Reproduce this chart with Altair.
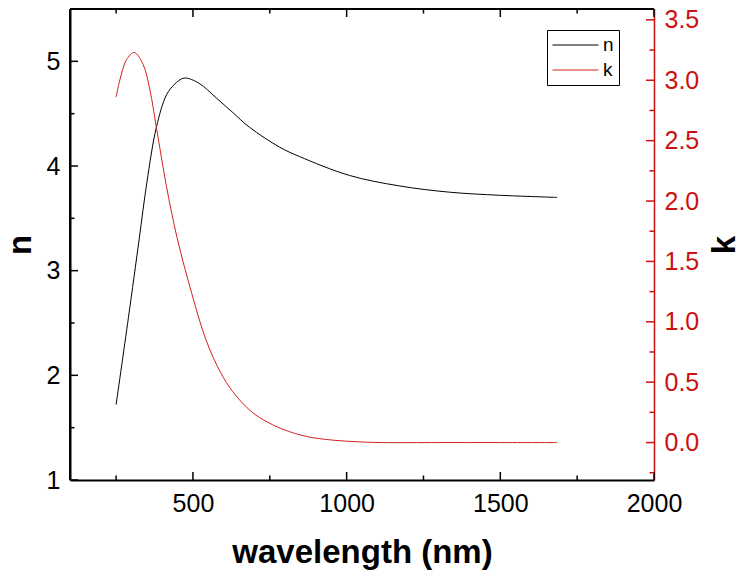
import altair as alt
import pandas as pd

# ---- data ----
wl_n = [250, 290, 325, 350, 381, 414, 440, 471, 520, 576, 630, 684, 782, 847, 1009, 1171, 1334, 1500, 1685]
n_vals = [1.72, 2.55, 3.30, 3.84, 4.37, 4.68, 4.78, 4.84, 4.79, 4.65, 4.51, 4.37, 4.18, 4.09, 3.91, 3.81, 3.75, 3.72, 3.70]

wl_k = [250, 262, 284, 309, 338, 360, 381, 414, 448, 490, 544, 590, 630, 684, 728, 793, 870, 955, 1040, 1117, 1300, 1500, 1685]
k_vals = [2.86, 3.00, 3.17, 3.23, 3.13, 2.92, 2.61, 2.12, 1.70, 1.29, 0.84, 0.58, 0.42, 0.27, 0.19, 0.11, 0.05, 0.02, 0.006, 0.0, 0.0, 0.0, 0.0]

x_major = [500, 1000, 1500, 2000]
x_minor = [250, 750, 1250, 1750]
n_major = [1, 2, 3, 4, 5]
n_minor = [1.5, 2.5, 3.5, 4.5]
k_major = [0.0, 0.5, 1.0, 1.5, 2.0, 2.5, 3.0, 3.5]
k_minor = [-0.25, 0.25, 0.75, 1.25, 1.75, 2.25, 2.75, 3.25]
series = ["n", "k"]

# ---- styling ----
W, H = 584, 471
FONT = "Liberation Sans"
RED_AX = "#cc1111"
RED_LN = "#d42020"
MAJ, MIN = 8, 4.5

xs = alt.Scale(domain=[100, 2000], nice=False, zero=False)
ns = alt.Scale(domain=[1, 5.5], nice=False, zero=False)
ks = alt.Scale(domain=[-0.31, 3.59], nice=False, zero=False)
cs = alt.Scale(domain=series, range=["black", RED_LN])

df_n = pd.DataFrame({"wl": wl_n, "n": n_vals, "s": series[0]})
df_k = pd.DataFrame({"wl": wl_k, "k": k_vals, "s": series[1]})

x_axis = alt.Axis(values=x_major, format="d", title="wavelength (nm)", grid=False,
                  ticks=False, tickSize=0, labelFontSize=25, labelFont=FONT, labelColor="black",
                  labelPadding=11, domainColor="black", domainWidth=2,
                  titleFontSize=33, titleFont=FONT, titleFontWeight="bold", titleColor="black",
                  titlePadding=20, labelFlush=False)

n_axis = alt.Axis(orient="left", values=n_major, format="d", title="n", grid=False,
                  ticks=False, tickSize=0, labelFontSize=25, labelFont=FONT, labelColor="black",
                  labelPadding=10, domainColor="black", domainWidth=2,
                  titleFontSize=33, titleFont=FONT, titleFontWeight="bold", titleColor="black",
                  titlePadding=9)

k_axis = alt.Axis(orient="right", values=k_major, format=".1f", title="k", grid=False,
                  ticks=False, tickSize=0, labelFontSize=25, labelFont=FONT, labelColor=RED_AX,
                  labelPadding=10, domainColor=RED_AX, domainWidth=1.5,
                  titleFontSize=33, titleFont=FONT, titleFontWeight="bold", titleColor="black",
                  titlePadding=10, titleAngle=270, titleBaseline="top")

legend = alt.Legend(orient="none", legendX=477, legendY=21, title=None, symbolType="stroke",
                    symbolSize=2116, symbolStrokeWidth=1, clipHeight=20, rowPadding=5,
                    labelFontSize=19, labelFont=FONT, labelColor="black", labelOffset=4,
                    padding=5, strokeColor="black", fillColor="white")

n_line = alt.Chart(df_n).mark_line(strokeWidth=1, interpolate="catmull-rom").encode(
    x=alt.X("wl:Q", scale=xs, axis=x_axis),
    y=alt.Y("n:Q", scale=ns, axis=n_axis),
    color=alt.Color("s:N", scale=cs, legend=legend),
)

k_line = alt.Chart(df_k).mark_line(strokeWidth=1, interpolate="catmull-rom").encode(
    x=alt.X("wl:Q", scale=xs, axis=x_axis),
    y=alt.Y("k:Q", scale=ks, axis=k_axis),
    color=alt.Color("s:N", scale=cs, legend=legend),
)


def y_ticks(values, scale, axis, length, color, right):
    df = pd.DataFrame({"v": values})
    if right:
        xe = dict(x=alt.value(W - length), x2=alt.value(W))
    else:
        xe = dict(x=alt.value(0), x2=alt.value(length))
    return alt.Chart(df).mark_rule(color=color, strokeWidth=1.5).encode(
        y=alt.Y("v:Q", scale=scale, axis=axis, title=axis.title), **xe)


def x_ticks(values, length, top):
    df = pd.DataFrame({"v": values})
    if top:
        ye = dict(y=alt.value(0), y2=alt.value(length))
    else:
        ye = dict(y=alt.value(H), y2=alt.value(H - length))
    return alt.Chart(df).mark_rule(color="black", strokeWidth=1.5).encode(
        x=alt.X("v:Q", scale=xs, axis=x_axis, title=x_axis.title), **ye)


frame = pd.DataFrame({"a": [0]})
top_line = alt.Chart(frame).mark_rule(color="black", strokeWidth=2).encode(
    x=alt.value(0), x2=alt.value(W), y=alt.value(0))
left_line = alt.Chart(frame).mark_rule(color="black", strokeWidth=2).encode(
    x=alt.value(0), y=alt.value(0), y2=alt.value(H))

n_group = alt.layer(
    n_line,
    y_ticks(n_major, ns, n_axis, MAJ, "black", False),
    y_ticks(n_minor, ns, n_axis, MIN, "black", False),
    x_ticks(x_major, MAJ, False), x_ticks(x_minor, MIN, False),
    x_ticks(x_major, MAJ, True), x_ticks(x_minor, MIN, True),
    top_line, left_line,
)

k_group = alt.layer(
    k_line,
    y_ticks(k_major, ks, k_axis, MAJ, RED_AX, True),
    y_ticks(k_minor, ks, k_axis, MIN, RED_AX, True),
)

chart = alt.layer(n_group, k_group).resolve_scale(y="independent").properties(
    width=W, height=H,
    autosize=alt.AutoSizeParams(type="none"),
    padding={"left": 70, "top": 9, "right": 93, "bottom": 99},
    background="white",
).configure_view(stroke=None).configure(font=FONT)

chart.save("out.html", embed_options={"renderer": "svg", "actions": False})
